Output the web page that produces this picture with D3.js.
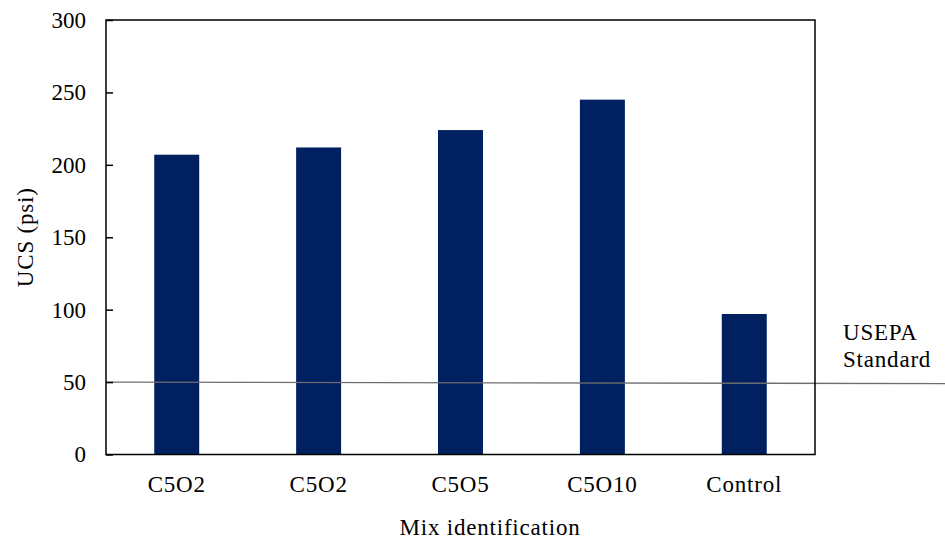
<!DOCTYPE html>
<html><head><meta charset="utf-8">
<script src="https://cdn.jsdelivr.net/npm/d3@7"></script>
<style>body{margin:0;background:#fff}svg{display:block}text{font-family:"Liberation Serif","Times New Roman",serif;fill:#000}</style>
</head><body>
<svg id="c" width="945" height="539"></svg>
<script>
const categories = ["C5O2","C5O2","C5O5","C5O10","Control"];
const ucsValues = [207, 212, 224, 245, 97];
const yTicks = [0,50,100,150,200,250,300];
const standardValue = 50;
const standardLabel = ["USEPA","Standard"];

const svg = d3.select("#c");
const m = {l:106, r:815, t:20, b:454.5};
const FS = "23px", LS = "0.8px";
const x = d3.scaleBand().domain(d3.range(categories.length)).range([m.l, m.r]).paddingInner(0.683).paddingOuter(0.34);
const y = d3.scaleLinear().domain([0,300]).range([m.b, m.t]);

svg.append("g").selectAll("rect").data(ucsValues).join("rect")
  .attr("x",(d,i)=>x(i)).attr("width",x.bandwidth())
  .attr("y",d=>y(d)).attr("height",d=>y(0)-y(d)).attr("fill","#002060");

// standard line
svg.append("line").attr("x1",m.l).attr("x2",945)
  .attr("y1",y(standardValue)).attr("y2",y(standardValue)+1.5)
  .attr("stroke","#6e6e6e").attr("stroke-width",1.3);

// frame
svg.append("rect").attr("x",m.l).attr("y",m.t).attr("width",m.r-m.l).attr("height",m.b-m.t)
  .attr("fill","none").attr("stroke","#000").attr("stroke-width",1.5);

const ya = svg.append("g").attr("transform",`translate(${m.l},0)`)
  .call(d3.axisLeft(y).tickValues(yTicks).tickSizeInner(-7).tickSizeOuter(0).tickPadding(20));
ya.select(".domain").remove();
ya.selectAll("line").attr("stroke","#000").attr("stroke-width",1.5);
ya.selectAll("text").style("font-size",FS).style("font-family","Liberation Serif");

const xa = svg.append("g").attr("transform",`translate(0,${m.b})`)
  .call(d3.axisBottom(x).tickFormat(i=>categories[i]).tickSize(0).tickPadding(21));
xa.select(".domain").remove();
xa.selectAll("text").style("font-size",FS).style("font-family","Liberation Serif").style("letter-spacing",LS);

svg.append("text").attr("transform",`translate(33,${(m.t+m.b)/2}) rotate(-90)`)
  .attr("text-anchor","middle").style("font-size",FS).style("letter-spacing",LS).text("UCS (psi)");
svg.append("text").attr("x",490).attr("y",535)
  .attr("text-anchor","middle").style("font-size",FS).style("letter-spacing",LS).text("Mix identification");

svg.append("g").selectAll("text").data(standardLabel).join("text")
  .attr("x",843).attr("y",(d,i)=>340+i*27).style("font-size",FS).style("letter-spacing",LS).text(d=>d);
</script>
</body></html>
